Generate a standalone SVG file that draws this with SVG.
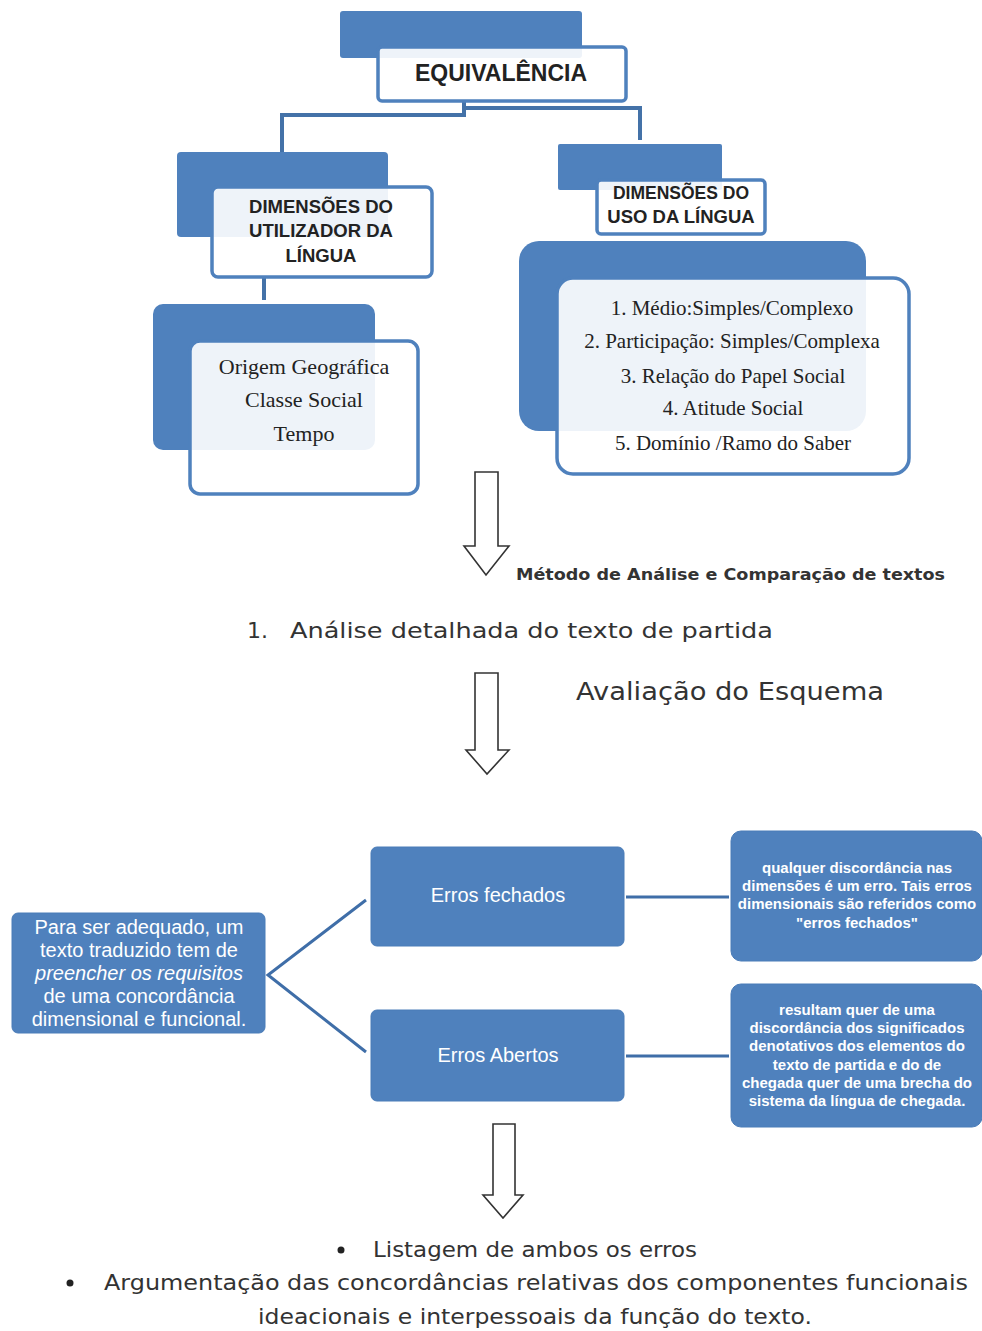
<svg xmlns="http://www.w3.org/2000/svg" width="982" height="1331" viewBox="0 0 982 1331">
<defs>
<style>
.back{fill:#4f81bd}
.front{fill:#ffffff;fill-opacity:0.9;stroke:#4f81bd;stroke-width:3.5}
.conn{fill:none;stroke:#4472a8;stroke-width:4}
.line{fill:none;stroke:#3f6ea8;stroke-width:3}
.box{fill:#4f81bd;stroke:#4a7cb8;stroke-width:1}
.arrow{fill:#ffffff;stroke:#333;stroke-width:1.6}
.hd{font-family:"Liberation Sans",Arial,sans-serif;font-weight:bold;fill:#222;text-anchor:middle}
.sf{font-family:"Liberation Serif","Times New Roman",serif;fill:#222;text-anchor:middle}
.wt{font-family:"Liberation Sans",Arial,sans-serif;fill:#ffffff;text-anchor:middle}
.gt{font-family:"DejaVu Sans","Liberation Sans",sans-serif;fill:#333}
</style>
</defs>
<g id="connectors">
<polyline class="conn" points="464,101 464,115 282,115 282,153"/>
<polyline class="conn" points="464,108 640,108 640,140"/>
<line class="conn" x1="264" y1="277" x2="264" y2="300"/>
<polyline class="line" points="366,900 268,975 366,1052"/>
<line class="line" x1="626" y1="897" x2="729" y2="897"/>
<line class="line" x1="626" y1="1056" x2="729" y2="1056"/>
</g>
<g id="equivalencia">
<rect class="back" x="340" y="11" width="242" height="47" rx="3"/>
<rect class="front" x="378" y="47" width="248" height="54" rx="4"/>
<text class="hd" x="501" y="81" font-size="23">EQUIVALÊNCIA</text>
</g>
<g id="dim-utilizador">
<rect class="back" x="177" y="152" width="211" height="85" rx="4"/>
<rect class="front" x="212" y="187" width="220" height="90" rx="6"/>
<text class="hd" x="321" y="213" font-size="18.5">DIMENSÕES DO</text>
<text class="hd" x="321" y="237" font-size="18.5">UTILIZADOR DA</text>
<text class="hd" x="321" y="262" font-size="18.5">LÍNGUA</text>
</g>
<g id="utilizador-lista">
<rect class="back" x="153" y="304" width="222" height="146" rx="10"/>
<rect class="front" x="190" y="341" width="228" height="153" rx="10"/>
<text class="sf" x="304" y="374" font-size="22">Origem Geográfica</text>
<text class="sf" x="304" y="407" font-size="22">Classe Social</text>
<text class="sf" x="304" y="441" font-size="22">Tempo</text>
</g>
<g id="dim-uso">
<rect class="back" x="558" y="144" width="164" height="46" rx="2"/>
<rect class="front" x="597" y="180" width="168" height="54" rx="4"/>
<text class="hd" x="681" y="199" font-size="17.5">DIMENSÕES DO</text>
<text class="hd" x="681" y="223" font-size="18.5">USO DA LÍNGUA</text>
</g>
<g id="uso-lista">
<rect class="back" x="519" y="241" width="347" height="190" rx="20"/>
<rect class="front" x="557" y="278" width="352" height="196" rx="16"/>
<text class="sf" x="732" y="315" font-size="21">1. Médio:Simples/Complexo</text>
<text class="sf" x="732" y="348" font-size="21">2. Participação: Simples/Complexa</text>
<text class="sf" x="733" y="383" font-size="21">3. Relação do Papel Social</text>
<text class="sf" x="733" y="415" font-size="21">4. Atitude Social</text>
<text class="sf" x="733" y="450" font-size="21">5. Domínio /Ramo do Saber</text>
</g>
<g id="arrow1">
<polygon class="arrow" points="475,472 498,472 498,546 509,546 486,575 464,546 475,546"/>
</g>
<g id="metodo">
<text class="gt" x="516" y="580" font-size="16" font-weight="bold" fill="#111" textLength="429" lengthAdjust="spacingAndGlyphs">Método de Análise e Comparação de textos</text>
</g>
<g id="analise">
<text class="gt" x="247" y="638" font-size="22">1.</text>
<text class="gt" x="290" y="638" font-size="22" textLength="483" lengthAdjust="spacingAndGlyphs">Análise detalhada do texto de partida</text>
</g>
<g id="avaliacao">
<text class="gt" x="576" y="700" font-size="24" textLength="308" lengthAdjust="spacingAndGlyphs">Avaliação do Esquema</text>
</g>
<g id="arrow2">
<polygon class="arrow" points="475,673 498,673 498,750 509,750 487,774 466,750 475,750"/>
</g>
<g id="para-ser">
<rect class="box" x="12" y="913" width="253" height="120" rx="6"/>
<text class="wt" x="139" y="934" font-size="20">Para ser adequado, um</text>
<text class="wt" x="139" y="957" font-size="20">texto traduzido tem de</text>
<text class="wt" x="139" y="980" font-size="20" font-style="italic">preencher os requisitos</text>
<text class="wt" x="139" y="1003" font-size="20">de uma concordância</text>
<text class="wt" x="139" y="1026" font-size="20">dimensional e funcional.</text>
</g>
<g id="erros-fechados">
<rect class="box" x="371" y="847" width="253" height="99" rx="6"/>
<text class="wt" x="498" y="902" font-size="20">Erros fechados</text>
</g>
<g id="erros-abertos">
<rect class="box" x="371" y="1010" width="253" height="91" rx="6"/>
<text class="wt" x="498" y="1062" font-size="20">Erros Abertos</text>
</g>
<g id="desc-fechados">
<rect class="box" x="731" y="831" width="251" height="130" rx="10"/>
<text class="wt" x="857" y="873" font-size="15" font-weight="bold">qualquer discordância nas</text>
<text class="wt" x="857" y="891" font-size="15" font-weight="bold">dimensões é um erro. Tais erros</text>
<text class="wt" x="857" y="909" font-size="15" font-weight="bold">dimensionais são referidos como</text>
<text class="wt" x="857" y="928" font-size="15" font-weight="bold">"erros fechados"</text>
</g>
<g id="desc-abertos">
<rect class="box" x="731" y="984" width="251" height="143" rx="10"/>
<text class="wt" x="857" y="1015" font-size="15" font-weight="bold">resultam quer de uma</text>
<text class="wt" x="857" y="1033" font-size="15" font-weight="bold">discordância dos significados</text>
<text class="wt" x="857" y="1051" font-size="15" font-weight="bold">denotativos dos elementos do</text>
<text class="wt" x="857" y="1070" font-size="15" font-weight="bold">texto de partida e do de</text>
<text class="wt" x="857" y="1088" font-size="15" font-weight="bold">chegada quer de uma brecha do</text>
<text class="wt" x="857" y="1106" font-size="15" font-weight="bold">sistema da língua de chegada.</text>
</g>
<g id="arrow3">
<polygon class="arrow" points="493,1124 515,1124 515,1195 523,1195 503,1218 483,1195 493,1195"/>
</g>
<g id="listagem">
<circle cx="341" cy="1250" r="3.5" fill="#222"/>
<text class="gt" x="373" y="1257" font-size="21" textLength="324" lengthAdjust="spacingAndGlyphs">Listagem de ambos os erros</text>
<circle cx="70" cy="1283" r="3.5" fill="#222"/>
<text class="gt" x="104" y="1290" font-size="21" textLength="864" lengthAdjust="spacingAndGlyphs">Argumentação das concordâncias relativas dos componentes funcionais</text>
<text class="gt" x="258" y="1324" font-size="21" textLength="554" lengthAdjust="spacingAndGlyphs">ideacionais e interpessoais da função do texto.</text>
</g>
</svg>
